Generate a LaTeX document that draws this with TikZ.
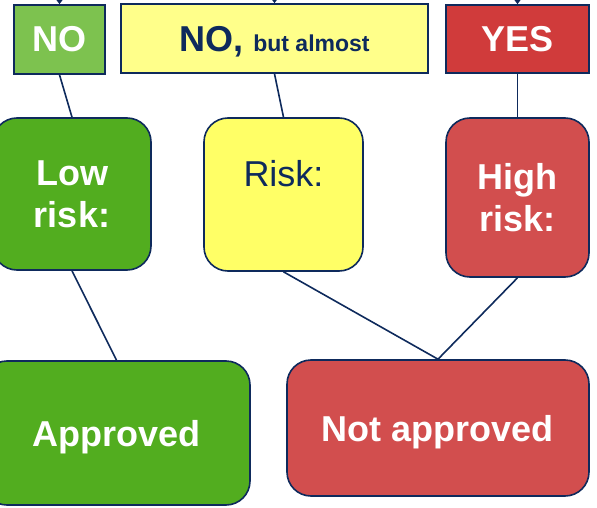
\documentclass[tikz,border=0pt]{standalone}
\usepackage{fontspec}
\setmainfont{Liberation Sans}
\usetikzlibrary{arrows.meta,calc}
\definecolor{navy}{HTML}{0E2A5C}
\definecolor{lgreen}{HTML}{7DC24F}
\definecolor{dgreen}{HTML}{52AD1F}
\definecolor{pyellow}{HTML}{FFFF8A}
\definecolor{byellow}{HTML}{FFFF66}
\definecolor{tred}{HTML}{D03B3B}
\definecolor{bred}{HTML}{D24E4E}
\tikzset{
  box/.style={draw=navy, line width=1.6pt, rectangle, inner sep=0pt, align=center},
  rbox/.style={box, rounded corners=24pt},
  big/.style={font=\fontsize{36}{42}\selectfont\bfseries},
  conn/.style={draw=navy, line width=1.6pt},
  inarrow/.style={conn, -{Triangle[length=5pt,width=7pt]}}
}
\begin{document}
\begin{tikzpicture}[x=1pt,y=-1pt]
\useasboundingbox (0,0) rectangle (597,508);
% top boxes
\node[box, fill=lgreen, minimum width=91pt, minimum height=69pt, big, text=white] (no) at (59.5,39.5) {NO};
\node[box, fill=pyellow, minimum width=307pt, minimum height=69pt, text=navy, text depth=0pt] (almost) at (274.5,38.5)
  {{\fontsize{36}{42}\selectfont\bfseries NO,\ }{\fontsize{23}{27}\selectfont\bfseries but almost}};
\node[box, fill=tred, minimum width=143pt, minimum height=68pt, big, text=white] (yes) at (517.5,39) {YES};
% middle boxes
\node[rbox, fill=dgreen, minimum width=158pt, minimum height=152pt, big, text=white] (low) at (72,194) {Low\\risk:};
\node[rbox, fill=byellow, minimum width=159pt, minimum height=153pt] (risk) at (283.5,194.5) {};
\node[anchor=base, text=navy, font=\fontsize{36}{42}\selectfont, inner sep=0pt] (risktxt) at (283.5,186) {Risk:};
\node[rbox, fill=bred, minimum width=143pt, minimum height=159pt, big, text=white] (high) at (517.5,197.5) {High\\risk:};
% bottom boxes
\node[rbox, fill=dgreen, minimum width=267pt, minimum height=144pt, big, text=white, text depth=0pt] (appr) at (116.5,433) {Approved};
\node[rbox, fill=bred, minimum width=302pt, minimum height=136pt, big, text=white, text depth=0pt] (notappr) at (438,428) {Not approved};
% incoming arrows from above
\coordinate (inno) at (59.5,-12);
\coordinate (inalm) at (274.5,-12);
\coordinate (inyes) at (517.5,-12);
\draw[inarrow] (inno) -- (no.north);
\draw[inarrow] (inalm) -- (almost.north);
\draw[inarrow] (inyes) -- (yes.north);
% connectors
\draw[conn] (no.south) -- (low.north);
\draw[conn] (almost.south) -- (risk.north);
\draw[conn] (yes.south) -- (high.north);
\draw[conn] (low.south) -- (appr.north);
\draw[conn] (risk.south) -- (notappr.north);
\draw[conn] (high.south) -- (notappr.north);
\end{tikzpicture}
\end{document}
